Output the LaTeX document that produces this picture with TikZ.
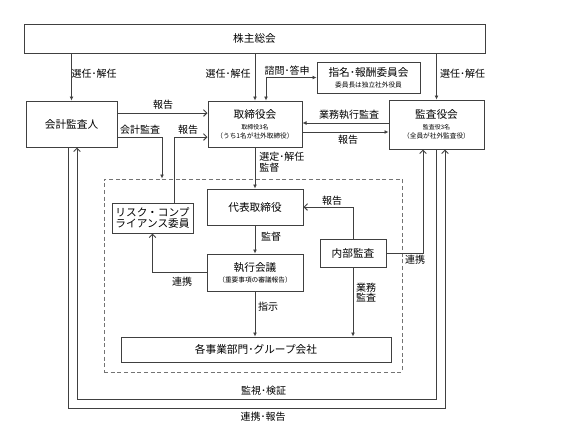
\documentclass[tikz,border=0pt]{standalone}
\usepackage{fontspec}
\setmainfont{Noto Sans CJK JP}
\usepackage{tikz}
\tikzset{>=latex}
\usetikzlibrary{arrows.meta, calc}

\newcommand{\smalltxt}{\fontsize{5}{6}\selectfont}
\newcommand{\tinytxt}{\fontsize{4.5}{5.5}\selectfont}

\tikzset{
  box/.style={draw=black!75, line width=0.75pt, align=center, inner sep=0pt, font=\fontsize{8}{9.5}\selectfont},
  sz/.style 2 args={minimum width=#1*0.75pt, minimum height=#2*0.75pt},
  lbl/.style={inner sep=0pt, font=\fontsize{7.5}{9}\selectfont},
  ln/.style={draw=black!75, line width=0.75pt},
  fa/.style={ln, -{Latex[length=3pt, width=3pt]}},
  oa/.style={ln, -{Straight Barb[length=2.5pt, width=5pt]}},
  grpbox/.style={draw=black!55, line width=0.75pt, dash pattern=on 3pt off 2pt},
}

\begin{document}
\begin{tikzpicture}[x=0.75pt, y=-0.75pt]

    \useasboundingbox (0,0) rectangle (571,440);

% Boxes
    \node[box, sz={461}{29}] (soukai) at (254.5, 38.5) {株主総会};
    \node[box, sz={103}{31}] (shimei) at (368.5, 77.5) {指名･報酬委員会\\[-1pt]{\smalltxt 委員長は独立社外役員}};
    \node[box, sz={91}{46}] (kaikei) at (71.5, 124) {会計監査人};
    \node[box, sz={94}{46}] (torishimari) at (255, 124) {取締役会\\[-1pt]{\tinytxt 取締役3名}\\[-3pt]{\smalltxt （うち1名が社外取締役）}};
    \node[box, sz={95}{49}] (kansayaku) at (436.5, 124.5) {監査役会\\[-1pt]{\tinytxt 監査役3名}\\[-3pt]{\smalltxt （全員が社外監査役）}};

    \node[grpbox, sz={298}{193}] (group) at (253, 275.5) {};

    \node[box, sz={96}{36}] (daihyo) at (255, 207) {代表取締役};
    \node[box, sz={81}{30}] (risk) at (152.5, 218) {リスク・コンプ\\[-1pt]ライアンス委員};
    \node[box, sz={96}{37}] (shikko) at (255, 272.5) {執行会議\\[-1pt]{\smalltxt （重要事項の審議報告）}};
    \node[box, sz={66}{28}] (naibu) at (353, 253) {内部監査};
    \node[box, sz={270}{25}] (jigyo) at (256, 349.5) {各事業部門･グループ会社};

% From the shareholders
    \draw[fa] (soukai.south -| kaikei.north) -- (kaikei.north);
    \draw[fa] (soukai.south -| torishimari.north) -- (torishimari.north);
    \draw[fa] (soukai.south -| kansayaku.north) -- (kansayaku.north);
    \draw[ln, {Latex[length=3pt, width=3pt]}-{Latex[length=3pt, width=3pt]}] ($(torishimari.north)+(11,0)$) |- (shimei.west);

% Board level
    \draw[oa] (kaikei.east |- 0,113) -- (torishimari.west |- 0,113);
    \draw[fa] (kaikei.east |- 0,137) -| (group.north -| 162,0);
    \draw[oa] (risk.north -| 174,0) |- (torishimari.west |- 0,137);
    \draw[fa] (kansayaku.west |- 0,123) -- (torishimari.east |- 0,123);
    \draw[fa] (torishimari.east |- 0,132) -- (kansayaku.west |- 0,132);
    \draw[fa] (torishimari.south) -- (daihyo.north);

% Inside the group
    \draw[fa] (daihyo.south) -- (shikko.north);
    \draw[oa, {Straight Barb[length=2.5pt, width=5pt]}-] (risk.south) |- (shikko.west);
    \draw[oa] (naibu.north) |- (daihyo.east);
    \draw[oa, {Straight Barb[length=2.5pt, width=5pt]}-] (kansayaku.south -| 423,0) |- (naibu.east);
    \draw[fa] (naibu.south) -- (naibu.south |- jigyo.north);
    \draw[fa] (shikko.south) -- (shikko.south |- jigyo.north);

% Outer loops
    \draw[oa] (kansayaku.south -| 436,0) -- (436,399) -| (kaikei.south -| 77,0);
    \draw[oa] (kaikei.south -| 68,0) -- (68,408) -| (kansayaku.south -| 445,0);

% Labels
    \foreach \n/\x/\y/\t in {sennin1/94/74/選任･解任, sennin2/228/74/選任･解任,
        shimon/287/71/諮問･答申, sennin3/462.5/74/選任･解任,
        hokoku1/163/105/報告, kansa/140/130/会計監査, hokoku2/188/130/報告,
        gyomu/349/115/業務執行監査, hokoku3/348/140/報告,
        kantoku/271/237/監督, renkei1/182/282/連携, hokoku4/332/201/報告,
        renkei2/415/260/連携, shiji/268/307/指示,
        kanshi/263.5/391/監視･検証, renkeihokoku/263/417/連携･報告}{
        \node[lbl] (l\n) at (\x, \y) {\t};
    }
    \node[lbl, align=left, anchor=west] (lsentei) at (259, 162) {選定･解任\\[-1pt]監督};
    \node[lbl, align=left] (lgyomukansa) at (366, 292.5) {業務\\[-1pt]監査};

\end{tikzpicture}
\end{document}
